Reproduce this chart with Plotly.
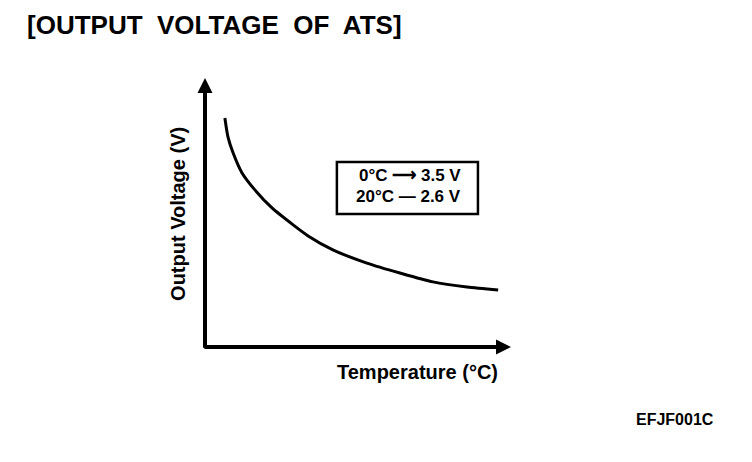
import plotly.graph_objects as go

# Schematic characteristic (relative axis units, 0-100 of each axis length)
temperature_rel = [6.5, 7.5, 9.2, 12.1, 16.3, 21.9, 28.8, 33.7, 41.8, 52.9, 63.7, 74.5, 85.6, 95.8]
voltage_rel = [85.1, 78.1, 72.1, 64.7, 58.4, 51.7, 45.4, 41.3, 36.1, 31.2, 27.5, 24.2, 22.3, 21.2]

legend_lines = ["0°C ⟶ 3.5 V", "20°C — 2.6 V"]
title_text = "[OUTPUT  VOLTAGE  OF  ATS]"
x_title = "Temperature (°C)"
y_title = "Output Voltage (V)"
figure_code = "EFJF001C"

FONT = "Liberation Sans, Arial, sans-serif"

fig = go.Figure()
fig.add_trace(go.Scatter(
    x=temperature_rel, y=voltage_rel, mode="lines",
    line=dict(color="black", width=3, shape="spline", smoothing=0.7),
    hoverinfo="skip", showlegend=False,
))

ann = []
# axis arrows
ann.append(dict(x=100, y=0, ax=-0.7, ay=0, xref="x", yref="y", axref="x", ayref="y",
                showarrow=True, arrowhead=2, arrowwidth=4, arrowsize=0.75,
                arrowcolor="black", text="", standoff=0))
ann.append(dict(x=0, y=100, ax=0, ay=-0.8, xref="x", yref="y", axref="x", ayref="y",
                showarrow=True, arrowhead=2, arrowwidth=4, arrowsize=0.75,
                arrowcolor="black", text="", standoff=0))
# axis titles
ann.append(dict(x=-0.088, y=0.495, xref="paper", yref="paper", text=y_title, textangle=-90,
                xanchor="center", yanchor="middle", showarrow=False,
                font=dict(family=FONT, size=20, color="black", weight="bold")))
ann.append(dict(x=0.696, y=-0.093, xref="paper", yref="paper", text=x_title,
                xanchor="center", yanchor="middle", showarrow=False,
                font=dict(family=FONT, size=20, color="black", weight="bold")))
# legend box text
ann.append(dict(x=84.3, y=63.9, xref="x", yref="y", text=legend_lines[0],
                xanchor="right", yanchor="middle", showarrow=False,
                font=dict(family=FONT, size=17, color="black", weight="bold")))
ann.append(dict(x=84.3, y=56.1, xref="x", yref="y", text=legend_lines[1],
                xanchor="right", yanchor="middle", showarrow=False,
                font=dict(family=FONT, size=17, color="black", weight="bold")))
# figure code
ann.append(dict(x=1.67, y=-0.271, xref="paper", yref="paper", text=figure_code,
                xanchor="right", yanchor="middle", showarrow=False,
                font=dict(family=FONT, size=16, color="black", weight="bold")))

# page body has an 8 px default margin: shift everything up/left by 8 px
fig.update_layout(
    width=752, height=462,
    margin=dict(l=197, r=249, t=70, b=123),
    paper_bgcolor="white", plot_bgcolor="white",
    title=dict(text=title_text, x=19/752, xanchor="left", y=1-17/462, yanchor="middle",
               xref="container", yref="container",
               font=dict(family=FONT, size=26, color="black", weight="bold")),
    xaxis=dict(range=[0, 100], visible=False, fixedrange=True),
    yaxis=dict(range=[0, 100], visible=False, fixedrange=True),
    annotations=ann,
    shapes=[dict(type="rect", xref="x", yref="y", x0=43.1, x1=89.2, y0=49.4, y1=68.8,
                 line=dict(color="black", width=2.5), fillcolor="rgba(0,0,0,0)")],
)

fig.write_html("out.html")
